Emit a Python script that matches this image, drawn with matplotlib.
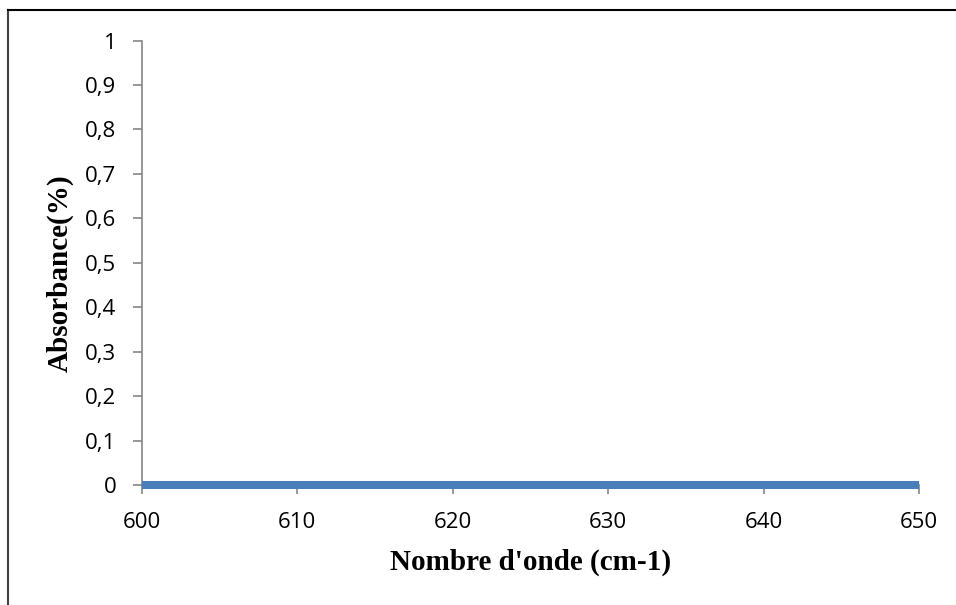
import matplotlib.pyplot as plt
from matplotlib.lines import Line2D
from matplotlib.ticker import FuncFormatter

# spectrum (flat near zero over this range)
wavenumber = [600, 605, 610, 615, 620, 625, 630, 635, 640, 645, 650]
absorbance = [0.001, 0.001, 0.001, 0.001, 0.001, 0.001, 0.001, 0.001, 0.001, 0.001, 0.001]

x_ticks = [600, 610, 620, 630, 640, 650]
y_ticks = [0, 0.1, 0.2, 0.3, 0.4, 0.5, 0.6, 0.7, 0.8, 0.9, 1]

fig = plt.figure(figsize=(9.56, 6.05), dpi=100)
ax = fig.add_axes([0.1485, 0.1983, 0.8128, 0.7347])

ax.plot(wavenumber, absorbance, color="#4a7ebb", linewidth=5.8, solid_capstyle="butt",
        zorder=3, clip_on=False)

ax.set_xlim(600, 650)
ax.set_ylim(0, 1)
ax.set_xticks(x_ticks)
ax.set_yticks(y_ticks)
ax.yaxis.set_major_formatter(FuncFormatter(lambda v, _: f"{v:g}".replace(".", ",")))

for s in ["top", "right"]:
    ax.spines[s].set_visible(False)
for s in ["left", "bottom"]:
    ax.spines[s].set_color("#868686")
    ax.spines[s].set_linewidth(1.2)
ax.spines["bottom"].set_zorder(1)

ax.tick_params(axis="both", colors="#868686", width=1.2, length=6.5, labelsize=16,
               labelcolor="black")
ax.tick_params(axis="y", pad=12)
ax.tick_params(axis="x", pad=13)
for lbl in ax.get_xticklabels() + ax.get_yticklabels():
    lbl.set_family("Open Sans")

ax.set_xlabel("Nombre d'onde (cm-1)", family="Liberation Serif", fontweight="bold",
              fontsize=21)
ax.set_ylabel("Absorbance(%)", family="Liberation Serif", fontweight="bold",
              fontsize=21)
ax.xaxis.label.set_va("center")
ax.yaxis.label.set_va("center")
ax.xaxis.set_label_coords(0.5, -0.173)
ax.yaxis.set_label_coords(-0.106, 0.477)

# chart frame (only left and top edges visible in the crop)
fig.add_artist(Line2D([0.0085, 0.0085], [0, 0.984], transform=fig.transFigure,
                      color="#404040", linewidth=1.5))
fig.add_artist(Line2D([0.0085, 1], [0.984, 0.984], transform=fig.transFigure,
                      color="black", linewidth=1.5))

fig.savefig("out.png", dpi=100)
